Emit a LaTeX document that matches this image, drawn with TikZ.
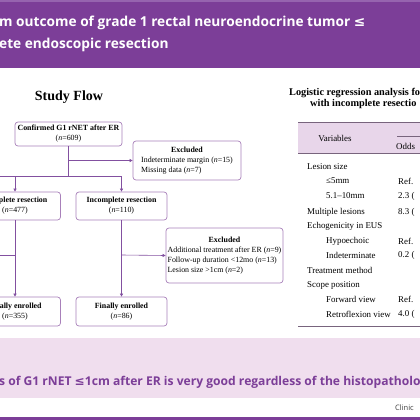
\documentclass[tikz,border=0pt]{standalone}
\usepackage{fontspec}
\setmainfont{Liberation Serif}
\newfontfamily\tsans{Open Sans}
\newfontfamily\dejavu{DejaVu Sans}
\usetikzlibrary{arrows.meta}
\definecolor{hpurple}{RGB}{124,62,152}
\definecolor{toppurple}{RGB}{150,100,175}
\definecolor{pinkband}{RGB}{240,222,238}
\definecolor{headpink}{RGB}{232,214,234}
\definecolor{boxpurple}{RGB}{168,128,186}
\definecolor{arrpurple}{RGB}{130,80,160}
\definecolor{rulegray}{RGB}{120,100,125}
\tikzset{
  flowbox/.style={draw=boxpurple, rounded corners=3pt, fill=white, line width=0.7pt, align=center, inner sep=1pt, font=\fontsize{7.9}{10}\selectfont},
  conn/.style={draw=arrpurple, line width=0.6pt},
  arr/.style={conn, -{Triangle[length=3pt,width=3pt]}},
  lvlone/.style={anchor=west, inner sep=0, font=\fontsize{8.9}{10}\selectfont},
  valtxt/.style={anchor=west, inner sep=0, font=\fontsize{8.9}{10}\selectfont},
  titletxt/.style={anchor=west, text=white, inner sep=0, font=\tsans\bfseries\fontsize{13.7}{16}\selectfont},
  tabtitle/.style={anchor=west, inner sep=0, font=\bfseries\fontsize{10.3}{11}\selectfont},
}
\begin{document}
\begin{tikzpicture}[x=1pt,y=-1pt]
\useasboundingbox (0,0) rectangle (420,420);
\clip (0,0) rectangle (420,420);
% bands
\fill[hpurple] (0,0) rectangle (420,68);
\fill[toppurple] (0,0) rectangle (420,2.5);
\fill[pinkband] (0,338) rectangle (420,398);
\fill[hpurple] (0,417) rectangle (420,420);
% title
\node[titletxt] (t1) at (-1,23) {m outcome of grade 1 rectal neuroendocrine tumor {\dejavu\bfseries ≤}};
\node[titletxt] (t2) at (-1,45) {ete endoscopic resection};
% Study flow
\node[inner sep=0, font=\bfseries\fontsize{14}{16}\selectfont] (sf) at (69,97) {Study Flow};
\node[flowbox, minimum width=107, minimum height=24] (b1) at (68.5,134) {\textbf{Confirmed G1 rNET after ER}\\(\textit{n}=609)};
\node[flowbox, minimum width=108, minimum height=39] (ex1) at (187,160.5) {\begin{tabular}{@{}l@{}}\multicolumn{1}{@{}c@{}}{\textbf{Excluded}}\\Indeterminate margin (\textit{n}=15)\\Missing data (\textit{n}=7)\end{tabular}};
\node[flowbox, minimum width=91, minimum height=28] (cr) at (15,206) {\textbf{Complete resection}\\(\textit{n}=477)};
\node[flowbox, minimum width=91, minimum height=28] (ir) at (121.5,206) {\textbf{Incomplete resection}\\(\textit{n}=110)};
\node[flowbox, minimum width=117, minimum height=55] (ex2) at (224.5,255.5) {\begin{tabular}{@{}l@{}}\multicolumn{1}{@{}c@{}}{\textbf{Excluded}}\\Additional treatment after ER (\textit{n}=9)\\Follow-up duration <12mo (\textit{n}=13)\\Lesion size >1cm (\textit{n}=2)\end{tabular}};
\node[flowbox, minimum width=91, minimum height=29] (fe1) at (15,311.5) {\textbf{Finally enrolled}\\(\textit{n}=355)};
\node[flowbox, minimum width=91, minimum height=29] (fe2) at (121.5,311.5) {\textbf{Finally enrolled}\\(\textit{n}=86)};
% connectors
\coordinate (j1) at (68.5,176);
\coordinate (j1a) at (68.5,160.5);
\coordinate (jl) at (15,176);
\coordinate (jr) at (121.5,176);
\coordinate (jle) at (-5,176);
\coordinate (c1) at (15,255);
\coordinate (c1l) at (-5,255);
\coordinate (c2) at (121.5,255);
\draw[conn] (b1.south) -- (j1);
\draw[arr] (j1a) -- (ex1.west);
\draw[conn] (jle) -- (jr);
\draw[arr] (jl) -- (cr.north);
\draw[arr] (jr) -- (ir.north);
\draw[arr] (cr.south) -- (fe1.north);
\draw[arr] (ir.south) -- (fe2.north);
\draw[conn] (c1) -- (c1l);
\draw[arr] (c2) -- (ex2.west);
% table
\node[tabtitle] (tt1) at (289,93) {Logistic regression analysis fo};
\node[tabtitle] (tt2) at (310,104) {with incomplete resectio};
\fill[headpink] (298,122) rectangle (420,153);
\draw[rulegray, line width=0.8pt] (298,122) -- (420,122);
\draw[rulegray, line width=0.8pt] (298,153) -- (420,153);
\draw[rulegray, line width=0.5pt] (397,136) -- (420,136);
\node[inner sep=0, font=\fontsize{8.9}{10}\selectfont] (hv) at (335,138) {Variables};
\node[valtxt] (ho) at (396,146) {Odds};
\node[lvlone] (r1) at (307,167) {Lesion size};
\node[lvlone] (r2) at (326,181) {≤5mm};
\node[valtxt] (v2) at (398,181) {Ref.};
\node[lvlone] (r3) at (326,196) {5.1–10mm};
\node[valtxt] (v3) at (398,196) {2.3 (};
\node[lvlone] (r4) at (307,212) {Multiple lesions};
\node[valtxt] (v4) at (398,212) {8.3 (};
\node[lvlone] (r5) at (307,226) {Echogenicity in EUS};
\node[lvlone] (r6) at (326,241) {Hypoechoic};
\node[valtxt] (v6) at (398,241) {Ref.};
\node[lvlone] (r7) at (326,255) {Indeterminate};
\node[valtxt] (v7) at (398,255) {0.2 (};
\node[lvlone] (r8) at (307,270) {Treatment method};
\node[lvlone] (r9) at (307,285) {Scope position};
\node[lvlone] (r10) at (326,299) {Forward view};
\node[valtxt] (v10) at (398,299) {Ref.};
\node[lvlone] (r11) at (326,314) {Retroflexion view};
\node[valtxt] (v11) at (398,314) {4.0 (};
\draw[rulegray, line width=0.8pt] (298,326) -- (420,326);
% conclusion
\node[anchor=west, text=hpurple, inner sep=0, font=\tsans\bfseries\fontsize{12.1}{15}\selectfont] (cc) at (-1,382) {s of G1 rNET {\dejavu\bfseries ≤}1cm after ER is very good regardless of the histopatholo};
\node[anchor=west, text=black!75, inner sep=0, font=\tsans\fontsize{7.5}{9}\selectfont] (cl) at (395,408) {Clinic};
\end{tikzpicture}
\end{document}
